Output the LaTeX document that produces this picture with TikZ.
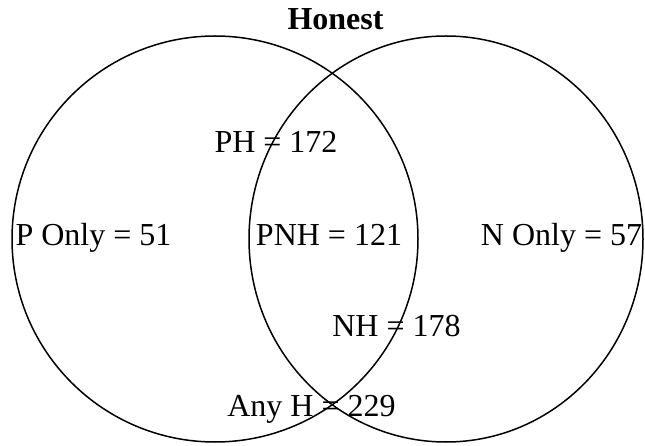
\documentclass[tikz,border=0pt]{standalone}
\usepackage{fontspec}
\setmainfont{Liberation Serif}
\usepackage{tikz}
\usetikzlibrary{positioning}
\tikzset{
  setline/.style={draw=black,line width=1.5pt},
  lab/.style={font=\fontsize{32}{34}\selectfont,inner sep=0pt,anchor=base},
  ttl/.style={lab,font=\fontsize{32}{34}\selectfont\bfseries},
}
\begin{document}
\begin{tikzpicture}[x=1pt,y=-1pt]
\useasboundingbox (0,0) rectangle (645,446);
% the two sets
\draw[setline] (215,239) ellipse [x radius=203,y radius=203];
\draw[setline] (446,239) ellipse [x radius=197,y radius=203];
% title and counts
\node[ttl] (title) at (335.5,30) {Honest};
\node[lab] (ph)    at (276,153)   {PH = 172};
\node[lab] (ponly) at (93.5,246)  {P Only = 51};
\node[lab] (pnh)   at (329,246)   {PNH = 121};
\node[lab] (nonly) at (561.5,246) {N Only = 57};
\node[lab] (nh)    at (396.5,336) {NH = 178};
\node[lab] (anyh)  at (311.5,416) {Any H = 229};
\end{tikzpicture}
\end{document}
